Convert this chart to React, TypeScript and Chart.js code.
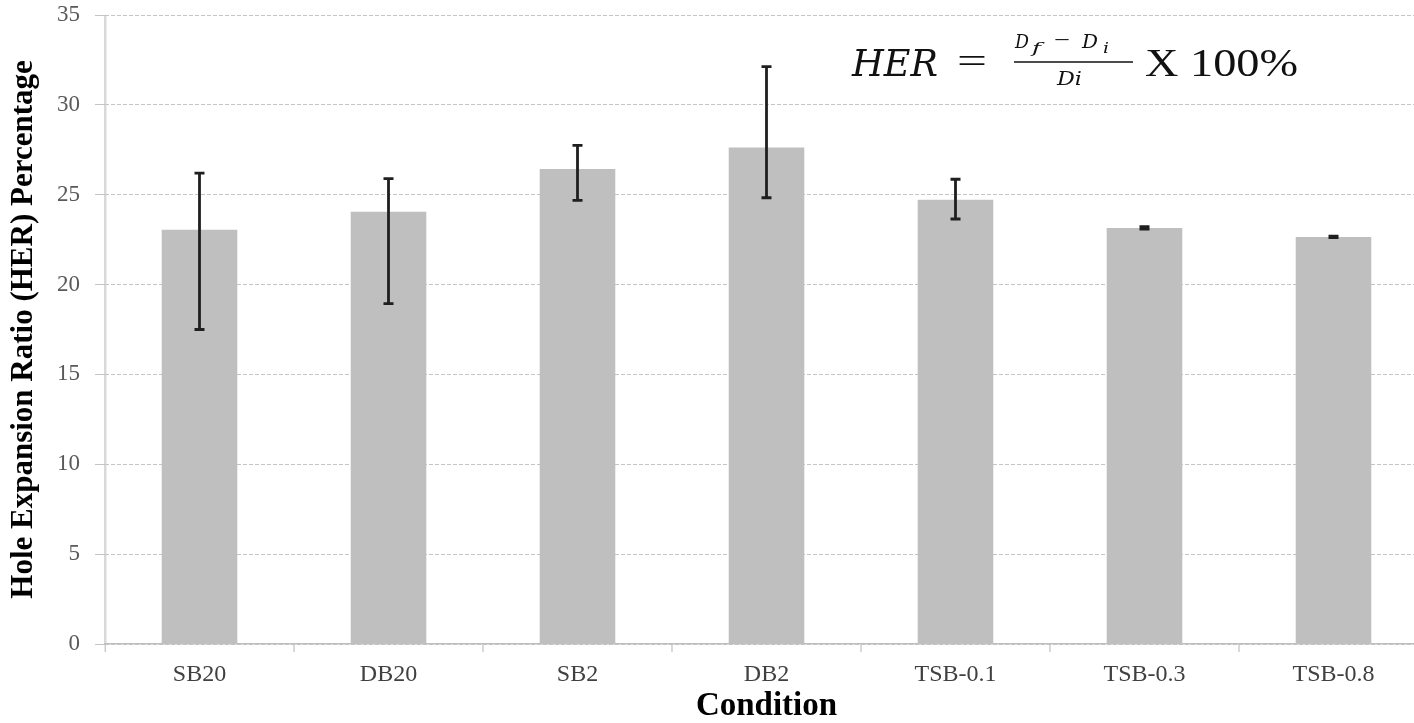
import React, { useEffect, useRef } from "react";
import { Chart, registerables } from "chart.js";

Chart.register(...registerables);

const categories = ["SB20", "DB20", "SB2", "DB2", "TSB-0.1", "TSB-0.3", "TSB-0.8"];
const herValues = [23.05, 24.05, 26.43, 27.63, 24.72, 23.15, 22.65];
const errorHigh = [26.2, 25.9, 27.74, 32.13, 25.86, 23.22, 22.69];
const errorLow = [17.5, 18.94, 24.68, 24.83, 23.65, 23.08, 22.61];
const yTicks = [0, 5, 10, 15, 20, 25, 30, 35];

const SERIF = "'Liberation Serif', 'Times New Roman', serif";
const MATH = "'DejaVu Serif', 'Liberation Serif', serif";

const errorBarPlugin = {
  id: "errorBars",
  afterDatasetsDraw(chart: any) {
    const meta = chart.getDatasetMeta(0);
    const yScale = chart.scales.y;
    const ctx = chart.ctx;
    ctx.save();
    ctx.strokeStyle = "#1f1f1f";
    ctx.lineWidth = 2.8;
    ctx.setLineDash([]);
    meta.data.forEach((bar: any, i: number) => {
      const x = bar.x;
      const yHi = yScale.getPixelForValue(errorHigh[i]);
      const yLo = yScale.getPixelForValue(errorLow[i]);
      const cap = 5;
      ctx.beginPath();
      ctx.moveTo(x, yHi);
      ctx.lineTo(x, yLo);
      ctx.moveTo(x - cap, yHi);
      ctx.lineTo(x + cap, yHi);
      ctx.moveTo(x - cap, yLo);
      ctx.lineTo(x + cap, yLo);
      ctx.stroke();
    });
    ctx.restore();
  },
};

function drawStretched(ctx: CanvasRenderingContext2D, text: string, font: string, x: number, y: number, width: number) {
  ctx.font = font;
  const w = ctx.measureText(text).width;
  ctx.save();
  ctx.translate(x, y);
  ctx.scale(width / w, 1);
  ctx.fillText(text, 0, 0);
  ctx.restore();
}

const formulaPlugin = {
  id: "formula",
  afterDraw(chart: any) {
    const ctx = chart.ctx as CanvasRenderingContext2D;
    ctx.save();
    ctx.fillStyle = "#111";
    ctx.textBaseline = "alphabetic";
    ctx.textAlign = "left";
    drawStretched(ctx, "HER", `italic 37px ${MATH}`, 852, 76, 86);
    drawStretched(ctx, "=", `36px ${SERIF}`, 957, 73, 30);
    // numerator
    drawStretched(ctx, "D", `italic 19px ${MATH}`, 1015, 48, 14);
    drawStretched(ctx, "f", `italic 14px ${MATH}`, 1032, 53, 9);
    drawStretched(ctx, "\u2212", `22px ${SERIF}`, 1054, 47, 16);
    drawStretched(ctx, "D", `italic 19px ${MATH}`, 1082, 48, 16);
    drawStretched(ctx, "i", `italic 14px ${MATH}`, 1103, 53, 6);
    // fraction bar
    ctx.strokeStyle = "#111";
    ctx.lineWidth = 1.6;
    ctx.beginPath();
    ctx.moveTo(1014, 62);
    ctx.lineTo(1133, 62);
    ctx.stroke();
    // denominator
    drawStretched(ctx, "Di", `italic 19px ${MATH}`, 1057, 85, 25);
    drawStretched(ctx, "X 100%", `40px ${SERIF}`, 1145, 76, 153);
    ctx.restore();
  },
};

export default function App() {
  const canvasRef = useRef<HTMLCanvasElement | null>(null);

  useEffect(() => {
    document.body.style.margin = "0";
    const canvas = canvasRef.current;
    if (!canvas) return;
    const chart = new Chart(canvas, {
      type: "bar",
      data: {
        labels: categories,
        datasets: [
          {
            label: "HER",
            data: herValues,
            backgroundColor: "#bfbfbf",
            borderWidth: 0,
            barPercentage: 0.4,
            categoryPercentage: 1,
          },
        ],
      },
      options: {
        animation: false,
        responsive: false,
        devicePixelRatio: 1,
        layout: { padding: { top: 15, right: 12, bottom: 0, left: 0 } },
        plugins: {
          legend: { display: false },
          tooltip: { enabled: false },
        },
        scales: {
          x: {
            afterFit(scale: any) {
              scale.height = 79;
            },
            grid: {
              drawOnChartArea: true,
              color: (c: any) => (c.index === 0 ? "#d9d9d9" : "rgba(0,0,0,0)"),
              lineWidth: (c: any) => (c.index === 0 ? 2.5 : 0),
              drawTicks: true,
              tickLength: 8,
              tickColor: "#bfbfbf",
              tickWidth: 1.2,
              offset: true,
            },
            border: { display: true, color: "#bfbfbf", width: 1.5 },
            ticks: {
              color: "#404040",
              font: { family: SERIF, size: 24 },
              padding: 8,
              maxRotation: 0,
            },
            title: {
              display: true,
              text: "Condition",
              color: "#000",
              font: { family: SERIF, size: 33, weight: "bold", lineHeight: 1 },
              padding: { top: 0, bottom: 0 },
            },
          },
          y: {
            min: 0,
            max: 35,
            afterFit(scale: any) {
              scale.width = 105;
              scale.paddingTop = 0;
              scale.paddingBottom = 0;
            },
            afterBuildTicks(scale: any) {
              scale.ticks = yTicks.map((v) => ({ value: v }));
            },
            grid: {
              color: "#c4c4c4",
              lineWidth: 1,
              drawTicks: true,
              tickLength: 10,
              tickColor: "#c4c4c4",
            },
            border: { display: false, dash: [4, 2] },
            ticks: {
              color: "#595959",
              font: { family: SERIF, size: 23 },
              padding: 15,
            },
            title: {
              display: true,
              text: "Hole Expansion Ratio (HER) Percentage",
              color: "#000",
              font: { family: SERIF, size: 31, weight: "bold", lineHeight: 1.2 },
              padding: { top: 5, bottom: 0 },
            },
          },
        },
      },
      plugins: [errorBarPlugin, formulaPlugin],
    });
    return () => chart.destroy();
  }, []);

  return (
    <div style={{ width: 1414, height: 723, overflow: "hidden", position: "relative" }}>
      <canvas ref={canvasRef} width={1440} height={723} style={{ display: "block", width: 1440, height: 723 }} />
    </div>
  );
}
